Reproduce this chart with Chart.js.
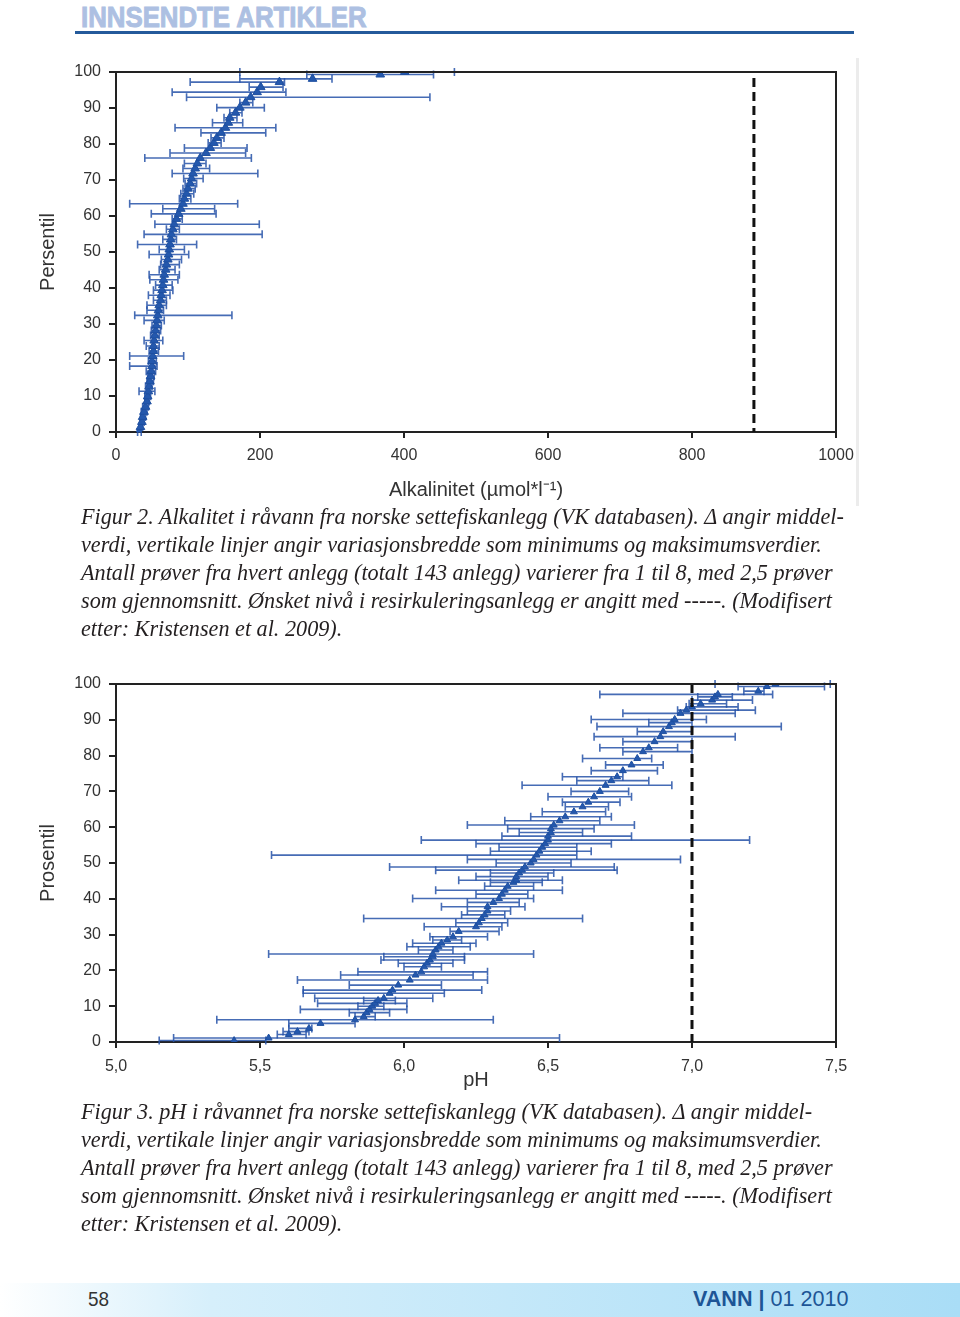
<!DOCTYPE html>
<html>
<head>
<meta charset="utf-8">
<script src="https://cdn.jsdelivr.net/npm/chart.js@4.4.1/dist/chart.umd.min.js"></script>
<style>
html, body { margin: 0; padding: 0; background: #fff; }
body { width: 960px; height: 1317px; position: relative; overflow: hidden; font-family: "Liberation Sans", Arial, sans-serif; }
.head { position: absolute; left: 81px; top: 0; font: bold 30px "Liberation Sans", Arial, sans-serif; color: #adc0e2; -webkit-text-stroke: 1px #adc0e2; transform: scaleX(0.86); transform-origin: 0 0; white-space: nowrap; }
.rule { position: absolute; left: 75px; top: 31px; width: 779px; height: 3px; background: #245a9b; }
.edge { position: absolute; left: 856px; top: 58px; width: 3px; height: 448px; background: #ececec; }
.chartbox { position: absolute; left: 0; width: 870px; }
.cap { position: absolute; left: 81px; font: italic 22.2px "Liberation Serif", "Times New Roman", serif; color: #231f20; line-height: 28px; white-space: nowrap; }
.foot { position: absolute; left: 0; top: 1283px; width: 960px; height: 34px; background: linear-gradient(to right, #ffffff 0%, #d6effb 22%, #a9ddf6 100%); }
.pg { position: absolute; left: 88px; top: 1287px; font: 21px "Liberation Sans", Arial, sans-serif; color: #333; transform: scaleX(0.9); transform-origin: 0 0; }
.mag { position: absolute; left: 693px; top: 1286px; font: 22px "Liberation Sans", Arial, sans-serif; color: #1d5596; transform: scaleX(0.98); transform-origin: 0 0; white-space: nowrap; }
.mag b { font-weight: bold; }
</style>
</head>
<body>
<div class="head">INNSENDTE ARTIKLER</div>
<div class="rule"></div>
<div class="edge"></div>

<div class="chartbox" style="top:50px;height:460px"><canvas id="alkChart"></canvas></div>

<div class="cap" style="top:503px">Figur 2. Alkalitet i råvann fra norske settefiskanlegg (VK databasen). Δ angir middel-<br>verdi, vertikale linjer angir variasjonsbredde som minimums og maksimumsverdier.<br>Antall prøver fra hvert anlegg (totalt 143 anlegg) varierer fra 1 til 8, med 2,5 prøver<br>som gjennomsnitt. Ønsket nivå i resirkuleringsanlegg er angitt med -----. (Modifisert<br>etter: Kristensen et al. 2009).</div>

<div class="chartbox" style="top:660px;height:440px"><canvas id="phChart"></canvas></div>

<div class="cap" style="top:1098px">Figur 3. pH i råvannet fra norske settefiskanlegg (VK databasen). Δ angir middel-<br>verdi, vertikale linjer angir variasjonsbredde som minimums og maksimumsverdier.<br>Antall prøver fra hvert anlegg (totalt 143 anlegg) varierer fra 1 til 8, med 2,5 prøver<br>som gjennomsnitt. Ønsket nivå i resirkuleringsanlegg er angitt med -----. (Modifisert<br>etter: Kristensen et al. 2009).</div>

<div class="foot"></div>
<div class="pg">58</div>
<div class="mag"><b>VANN</b> <b>|</b> 01 2010</div>

<script>
// Figur 2 - alkalitet
const alkPct = [0,1.4,2.8,4.2,5.6,7.0,8.5,9.9,11.3,12.7,14.1,15.5,16.9,18.3,19.7,21.1,22.5,23.9,25.4,26.8,
  28.2,29.6,31.0,32.4,33.8,35.2,36.6,38.0,39.4,40.8,42.3,43.7,45.1,46.5,47.9,49.3,50.7,52.1,53.5,54.9,
  56.3,57.7,59.2,60.6,62.0,63.4,64.8,66.2,67.6,69.0,70.4,71.8,73.2,74.6,76.1,77.5,78.9,80.3,81.7,83.1,
  84.5,85.9,87.3,88.7,90.1,91.5,93.0,94.4,95.8,97.2,98.1,99.3,100];
const alkMean = [32,34,36,37,39,41,43,44,45,46,47,48,49,50,50,51,52,52,53,54,
  55,56,57,58,59,60,62,63,64,65,66,67,69,70,72,73,74,75,76,77,
  79,81,84,87,90,93,95,98,100,103,105,107,110,113,117,125,131,136,140,146,
  152,156,158,166,172,180,187,196,201,227,273,367,401];
const alkMin = [30,32,33,34,35,37,40,40,32,41,43,44,42,19,45,19,46,42,39,48,
  49,50,39,26,43,43,52,45,52,55,47,46,60,62,63,46,60,30,65,39,
  70,54,78,49,65,19,88,90,93,96,94,78,93,95,40,75,95,128,132,118,
  82,134,150,158,140,172,98,78,185,103,172,265,172];
const alkMax = [35,37,39,41,43,45,46,48,54,50,52,53,55,57,56,94,59,60,65,60,
  62,63,67,161,66,70,70,75,79,78,86,88,82,88,91,101,95,112,84,203,
  88,199,92,139,137,169,104,108,110,112,121,197,130,125,188,180,182,146,150,208,
  222,176,168,175,206,190,436,236,232,234,300,441,470];
const alkTickLabels = ['0','200','400','600','800','1000'];
const alkTarget = 886;

// Figur 3 - pH
const phPct = [0.4,1.1,2.1,2.9,3.8,5.2,6.2,7.1,8.2,9.1,10.0,10.8,11.6,12.2,13.6,14.5,15.9,17.3,18.7,19.6,
  21.0,22.0,22.9,23.8,24.6,25.7,26.6,27.6,28.5,29.4,30.9,32.2,33.3,34.5,35.5,36.6,37.8,39.0,40.1,41.3,
  42.4,43.5,44.6,45.2,46.2,47.2,48.0,48.9,50.0,51.0,52.2,53.3,54.4,55.4,56.4,57.5,58.5,59.6,60.6,61.8,
  62.9,64.3,65.7,67.0,68.5,70.0,71.7,73.0,74.1,75.8,77.4,79.2,81.1,82.2,83.9,85.3,86.7,88.1,89.2,90.1,
  91.8,92.7,93.6,94.5,95.5,96.4,97.1,98.0,99.3,100];
const phMean = [5.41,5.53,5.60,5.63,5.67,5.71,5.83,5.86,5.87,5.88,5.89,5.90,5.91,5.93,5.95,5.96,5.98,6.02,6.04,6.06,
  6.07,6.08,6.09,6.10,6.10,6.11,6.12,6.13,6.15,6.17,6.19,6.25,6.26,6.27,6.28,6.29,6.29,6.31,6.33,6.34,
  6.35,6.36,6.38,6.39,6.39,6.40,6.41,6.42,6.44,6.45,6.46,6.47,6.48,6.49,6.50,6.50,6.51,6.51,6.52,6.54,
  6.56,6.59,6.62,6.64,6.66,6.68,6.70,6.72,6.74,6.76,6.79,6.81,6.83,6.85,6.87,6.89,6.90,6.92,6.93,6.94,
  6.96,6.98,7.00,7.03,7.07,7.08,7.09,7.23,7.26,7.29];
const phMin = [5.15,5.20,5.56,5.58,5.60,5.60,5.35,5.83,5.81,5.64,5.84,5.70,5.86,5.69,5.65,5.65,5.81,5.63,5.78,5.84,
  6.00,5.98,5.92,5.93,5.53,6.05,6.01,6.03,6.10,6.09,6.16,6.07,6.18,5.86,6.20,6.22,6.13,6.22,6.03,6.25,
  6.11,6.28,6.30,6.19,6.25,6.30,6.11,5.95,6.32,6.22,5.54,6.30,6.33,6.25,6.06,6.34,6.40,6.36,6.22,6.35,
  6.44,6.48,6.56,6.55,6.50,6.58,6.41,6.60,6.55,6.65,6.70,6.62,6.76,6.68,6.76,6.66,6.81,6.67,6.85,6.65,
  6.76,6.95,6.98,6.99,7.00,7.02,6.68,7.18,7.16,7.08];
const phMax = [5.52,6.54,5.66,5.67,5.68,5.83,6.31,5.90,5.95,6.01,5.93,6.01,5.97,6.10,6.14,6.27,6.13,6.29,6.24,6.29,
  6.13,6.17,6.21,6.21,6.45,6.17,6.23,6.25,6.20,6.29,6.33,6.34,6.36,6.62,6.35,6.37,6.42,6.40,6.45,6.43,
  6.55,6.45,6.48,6.55,6.50,6.52,6.74,6.73,6.58,6.96,6.60,6.65,6.60,6.72,7.20,6.79,6.62,6.66,6.80,6.68,
  6.72,6.70,6.71,6.75,6.79,6.78,6.93,6.85,6.76,6.88,6.90,6.86,7.00,6.95,7.00,7.15,7.00,7.31,7.00,7.05,
  7.15,7.22,7.16,7.12,7.21,7.14,7.28,7.25,7.46,7.48];
const phTickLabels = ['5,0','5,5','6,0','6,5','7,0','7,5'];
const phTarget = 7.0;

const pctTickLabels = ['0','10','20','30','40','50','60','70','80','90','100'];

Chart.defaults.font.family = '"Liberation Sans", Arial, sans-serif';
const axisColor = '#222';
const barColor = 'rgba(38, 82, 168, 0.85)';

// horizontal min-max bars with end caps
const errorBars = {
    id: 'errorBars',
    beforeDatasetsDraw(chart) {
        const {ctx, scales: {x, y}} = chart;
        ctx.save();
        ctx.strokeStyle = barColor;
        ctx.lineWidth = 1.6;
        chart.data.datasets[0].data.forEach((pt) => {
            const py = y.getPixelForValue(pt.y);
            const x0 = x.getPixelForValue(pt.xMin);
            const x1 = x.getPixelForValue(pt.xMax);
            ctx.beginPath();
            ctx.moveTo(x0, py); ctx.lineTo(x1, py);
            ctx.moveTo(x0, py - 4); ctx.lineTo(x0, py + 4);
            ctx.moveTo(x1, py - 4); ctx.lineTo(x1, py + 4);
            ctx.stroke();
        });
        ctx.restore();
    }
};

// dashed target line + top/right frame
const frameAndTarget = {
    id: 'frameAndTarget',
    afterDatasetsDraw(chart, args, opts) {
        const {ctx, chartArea: a, scales: {x}} = chart;
        ctx.save();
        const tx = x.getPixelForValue(opts.target);
        ctx.strokeStyle = '#111';
        ctx.lineWidth = 3;
        ctx.setLineDash([9, 5]);
        ctx.beginPath();
        ctx.moveTo(tx, a.top + opts.gap); ctx.lineTo(tx, a.bottom);
        ctx.stroke();
        ctx.setLineDash([]);
        ctx.strokeStyle = axisColor;
        ctx.lineWidth = 2;
        ctx.beginPath();
        ctx.moveTo(a.left, a.top); ctx.lineTo(a.right, a.top); ctx.lineTo(a.right, a.bottom);
        ctx.stroke();
        ctx.restore();
    }
};

function buildPoints(pct, mean, mn, mx) {
    return pct.map((p, i) => ({x: mean[i], y: p, xMin: mn[i], xMax: mx[i]}));
}

function makeChart(canvasId, points, xCfg, opts) {
    return new Chart(document.getElementById(canvasId), {
        type: 'scatter',
        data: {
            datasets: [{
                data: points,
                pointStyle: 'triangle',
                pointRadius: opts.radius,
                backgroundColor: '#2458ad',
                borderColor: '#1e4fa0',
                borderWidth: 1
            }]
        },
        options: {
            responsive: true,
            maintainAspectRatio: false,
            animation: false,
            layout: {padding: {top: opts.padTop, right: 34, left: 0, bottom: 0}},
            plugins: {
                legend: {display: false},
                tooltip: {enabled: false},
                frameAndTarget: {target: opts.target, gap: opts.gap}
            },
            scales: {
                x: Object.assign({
                    type: 'linear',
                    grid: {drawOnChartArea: false, drawTicks: true, tickLength: 6, color: axisColor, lineWidth: 2},
                    border: {display: true, color: axisColor, width: 2},
                    afterFit: (s) => { s.height = opts.xHeight; }
                }, xCfg),
                y: {
                    min: 0, max: 100,
                    ticks: {stepSize: 10, color: '#333', font: {size: 16}, padding: 8,
                        callback: (v, i) => pctTickLabels[i]},
                    grid: {drawOnChartArea: false, drawTicks: true, tickLength: 7, color: axisColor, lineWidth: 2},
                    border: {display: true, color: axisColor, width: 2},
                    title: {display: true, text: opts.yTitle, color: '#333', font: {size: 20}, padding: {top: 36, bottom: 0}},
                    afterFit: (s) => { s.width = 116; }
                }
            }
        },
        plugins: [errorBars, frameAndTarget]
    });
}

makeChart('alkChart', buildPoints(alkPct, alkMean, alkMin, alkMax), {
    min: 0, max: 1000,
    ticks: {stepSize: 200, color: '#333', font: {size: 16}, padding: 8,
        callback: (v, i) => alkTickLabels[i]},
    title: {display: true, text: 'Alkalinitet (µmol*l⁻¹)', color: '#333', font: {size: 20}, padding: {top: 4, bottom: 8}}
}, {padTop: 22, xHeight: 78, target: alkTarget, gap: 6, yTitle: 'Persentil', radius: 5});

makeChart('phChart', buildPoints(phPct, phMean, phMin, phMax), {
    min: 5, max: 7.5,
    ticks: {stepSize: 0.5, color: '#333', font: {size: 16}, padding: 9,
        callback: (v, i) => phTickLabels[i]},
    title: {display: true, text: 'pH', color: '#333', font: {size: 20}, padding: {top: 4, bottom: 8}}
}, {padTop: 24, xHeight: 58, target: phTarget, gap: 0, yTitle: 'Prosentil', radius: 4});
</script>
</body>
</html>
